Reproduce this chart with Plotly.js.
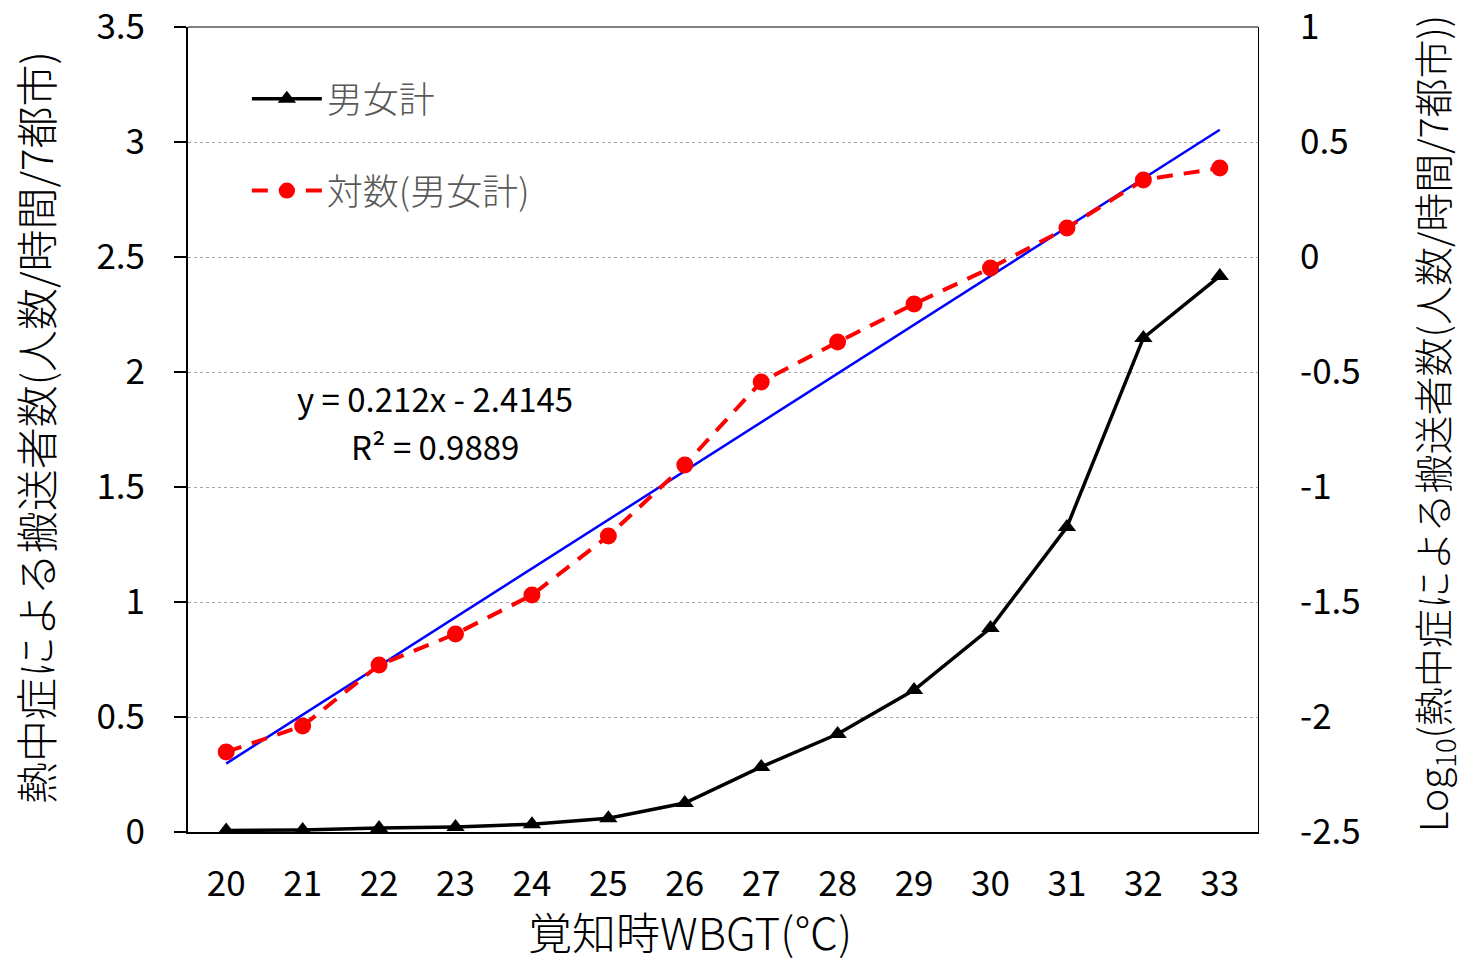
<!DOCTYPE html>
<html>
<head>
<meta charset="utf-8">
<script src="https://cdn.plot.ly/plotly-3.0.1.min.js"></script>
<style>html,body{margin:0;padding:0;background:#fff;}#chart{width:1458px;height:958px;}</style>
</head>
<body>
<div id="chart"></div>
<script>
const wbgt = [20,21,22,23,24,25,26,27,28,29,30,31,32,33];
const total = [0.007,0.009,0.017,0.022,0.034,0.060,0.126,0.283,0.426,0.617,0.887,1.326,2.148,2.417];
const logTotal = [-2.152,-2.039,-1.774,-1.639,-1.470,-1.213,-0.904,-0.543,-0.370,-0.204,-0.048,0.126,0.335,0.387];
const trendSlope = 0.212;
const trendIntercept = -2.4145;
const trendR2 = 0.9889;
const leftTicks = [0,0.5,1,1.5,2,2.5,3,3.5];
const leftTickText = ['0','0.5','1','1.5','2','2.5','3','3.5'];
const rightTicks = [-2.5,-2,-1.5,-1,-0.5,0,0.5,1];
const rightTickText = ['-2.5','-2','-1.5','-1','-0.5','0','0.5','1'];

// trendline over category index (1..n) as in the spreadsheet
const trendX = [wbgt[0], wbgt[wbgt.length-1]];
const trendY = [trendSlope*1 + trendIntercept, trendSlope*wbgt.length + trendIntercept];

const FONT = '"Noto Sans CJK JP", "Noto Sans", sans-serif';

const traces = [
  {x: wbgt, y: total, type:'scatter', mode:'lines+markers', name:'男女計',
   legendgroup:'a', yaxis:'y',
   line:{color:'#000000', width:3.5},
   marker:{symbol:'triangle-up', size:16, color:'#000000'}},
  {x: trendX, y: trendY, type:'scatter', mode:'lines', name:'線形',
   showlegend:false, yaxis:'y2', line:{color:'#0000ff', width:2.5}, hoverinfo:'skip'},
  {x: wbgt, y: logTotal, type:'scatter', mode:'lines+markers', name:'対数(男女計)',
   legendgroup:'b', yaxis:'y2',
   line:{color:'#ff0000', width:4, dash:'16px,11px'},
   marker:{symbol:'circle', size:17, color:'#ff0000'}}
];

const layout = {
  width:1458, height:958,
  margin:{l:188, r:200, t:27, b:126},
  paper_bgcolor:'#ffffff', plot_bgcolor:'#ffffff',
  font:{family:FONT, color:'#000000', size:30},
  showlegend:true,
  legend:{x:0.055, y:0.948, xanchor:'left', yanchor:'top', bgcolor:'rgba(0,0,0,0)',
          font:{size:36, color:'#595959', family:FONT, weight:300}, traceorder:'grouped',
          tracegroupgap:42, itemwidth:70},
  xaxis:{range:[19.5,33.5], tickmode:'array', tickvals:wbgt, ticktext:wbgt.map(String),
         showgrid:false, zeroline:false, showline:true, linecolor:'#000000', linewidth:2,
         mirror:false, ticks:'', ticklabelstandoff:20, tickfont:{size:35, family:FONT}},
  yaxis:{range:[0,3.5], tickmode:'array', tickvals:leftTicks, ticktext:leftTickText,
         showgrid:true, gridcolor:'#a6a6a6', griddash:'dot', gridwidth:1,
         zeroline:false, showline:true, linecolor:'#000000', linewidth:2,
         ticks:'outside', ticklen:12, tickwidth:2, tickcolor:'#000000',
         ticklabelstandoff:22, ticklabeloverflow:'allow', tickfont:{size:35, family:FONT}},
  yaxis2:{range:[-2.5,1], overlaying:'y', side:'right', tickmode:'array',
          tickvals:rightTicks, ticktext:rightTickText, showgrid:false, zeroline:false,
          showline:true, linecolor:'#000000', linewidth:1, ticks:'', ticklabelstandoff:34,
          ticklabeloverflow:'allow', tickfont:{size:35, family:FONT}},
  shapes:[{type:'line', xref:'paper', yref:'paper', x0:0, x1:1, y0:1, y1:1,
           line:{color:'#000000', width:1}}],
  annotations:[
    {xref:'x', yref:'y', x:22.73, y:1.887, text:'y = 0.212x - 2.4145',
     showarrow:false, font:{size:33, family:FONT, color:'#000000'}},
    {xref:'x', yref:'y', x:22.73, y:1.678, text:'R² = ' + trendR2.toFixed(4),
     showarrow:false, font:{size:33, family:FONT, color:'#000000'}},
    {xref:'paper', yref:'paper', x:(690-188)/1070, y:-(931-832)/805, text:'覚知時WBGT(℃)',
     showarrow:false, xanchor:'center', yanchor:'middle',
     font:{size:44, family:FONT, color:'#000000', weight:300}},
    {xref:'paper', yref:'paper', x:-(188-35)/1070, y:(832-428)/805, textangle:-90,
     text:'熱中症による搬送者数(人数/時間/7都市)', showarrow:false, xanchor:'center', yanchor:'middle',
     font:{size:42, family:FONT, color:'#000000', weight:300}},
    {xref:'paper', yref:'paper', x:1+(1433-1258)/1070, y:(832-424)/805, textangle:-90,
     text:'Log<sub>10</sub>(熱中症による搬送者数(人数/時間/7都市))', showarrow:false, xanchor:'center', yanchor:'middle',
     font:{size:39, family:FONT, color:'#000000', weight:300}}
  ]
};

Plotly.newPlot('chart', traces, layout, {displayModeBar:false, staticPlot:true});
</script>
</body>
</html>
